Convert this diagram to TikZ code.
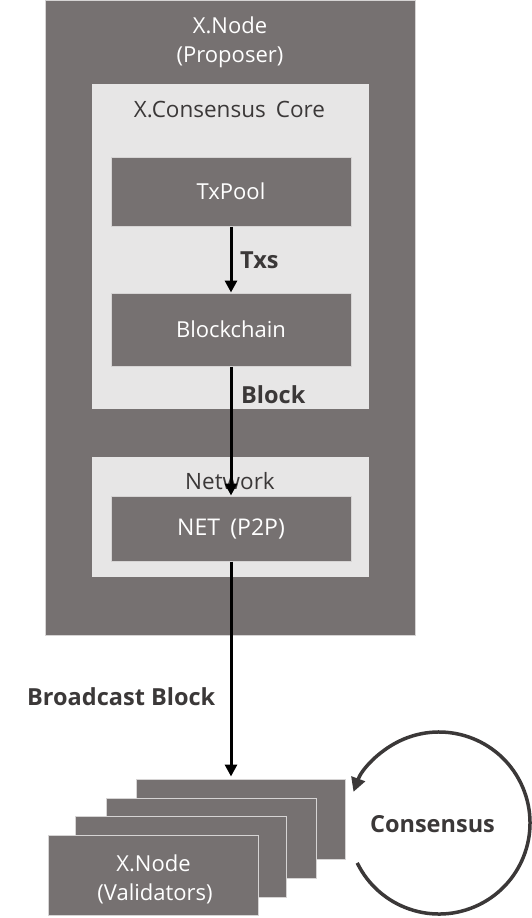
\documentclass[tikz,border=0pt]{standalone}
\usepackage{fontspec}
\setmainfont{Open Sans}
\usetikzlibrary{arrows.meta}
\definecolor{boxdark}{HTML}{767171}
\definecolor{boxlight}{HTML}{E7E6E6}
\definecolor{txtdark}{HTML}{3B3838}
\definecolor{edgecol}{HTML}{D6D4D4}
\begin{document}
\begin{tikzpicture}[x=1pt,y=1pt,
  darkbox/.style={fill=boxdark, draw=edgecol, line width=1pt, inner sep=0pt,
    text=white, font=\fontsize{22}{29}\selectfont, align=center},
  lightbox/.style={fill=boxlight, draw=none, inner sep=0pt},
  wtxt/.style={text=white, inner sep=0pt, font=\fontsize{22}{29}\selectfont},
  gtxt/.style={text=txtdark, inner sep=0pt, font=\fontsize{22.5}{29}\selectfont},
  lbl/.style={text=txtdark, inner sep=0pt, font=\bfseries\fontsize{23.5}{28}\selectfont},
  arr/.style={draw=black, line width=3pt, -{Triangle[length=12pt,width=12pt]}},
  cyclearr/.style={draw=txtdark, line width=3.5pt, -{Triangle[length=14pt,width=14pt]}}
]
\useasboundingbox (0,0) rectangle (531,-918);
% proposer node
\node[darkbox, minimum width=370pt, minimum height=635pt] (proposer) at (230,-317.5) {};
\node[wtxt, anchor=base] (proptitle) at (230,-33) {X.Node};
\node[wtxt, anchor=base] (proprole) at (230,-62) {(Proposer)};
% consensus core
\node[lightbox, minimum width=277pt, minimum height=325pt] (core) at (230.5,-246.5) {};
\node[gtxt, anchor=base] (coretitle) at (229.5,-117) {X.Consensus\hspace{0.45em}Core};
\node[darkbox, minimum width=240pt, minimum height=69pt] (txpool) at (231,-191.5) {TxPool};
\node[darkbox, minimum width=240pt, minimum height=73pt] (blockchain) at (231,-329.5) {Blockchain};
% network
\node[lightbox, minimum width=277pt, minimum height=120pt] (network) at (230.5,-517) {};
\node[gtxt, anchor=base] (nettitle) at (230,-489) {Network};
\node[darkbox, minimum width=240pt, minimum height=65pt, font=\fontsize{23}{29}\selectfont] (net) at (231,-528.5) {NET\hspace{0.45em}(P2P)};
% validators
\node[darkbox, minimum width=209pt, minimum height=80pt] (v4) at (240.5,-819) {};
\node[darkbox, minimum width=210pt, minimum height=80pt] (v3) at (211,-838) {};
\node[darkbox, minimum width=211pt, minimum height=81pt] (v2) at (180.5,-856.5) {};
\node[darkbox, minimum width=210pt, minimum height=80pt] (v1) at (153,-875) {};
\node[wtxt, anchor=base] (v1title) at (153.5,-871) {X.Node};
\node[wtxt, anchor=base] (v1role) at (155,-900) {(Validators)};
% arrows
\draw[arr] (txpool.south) -- (blockchain.north);
\draw[arr] (blockchain.south) -- (net.north);
\draw[arr, shorten >=2pt] (net.south) -- (net.south |- v4.north);
% labels
\node[lbl, anchor=base west] (txslbl) at (240,-268) {Txs};
\node[lbl, anchor=base west] (blocklbl) at (241,-403) {Block};
\node[lbl, anchor=base west] (bcastlbl) at (27,-705) {Broadcast Block};
% consensus cycle
\coordinate (cyc) at (439,-823);
\draw[cyclearr] ([shift={(206:91)}]cyc) arc[start angle=206, end angle=520, radius=91];
\node[lbl, anchor=base] (conslbl) at (432.5,-832) {Consensus};
\end{tikzpicture}
\end{document}
